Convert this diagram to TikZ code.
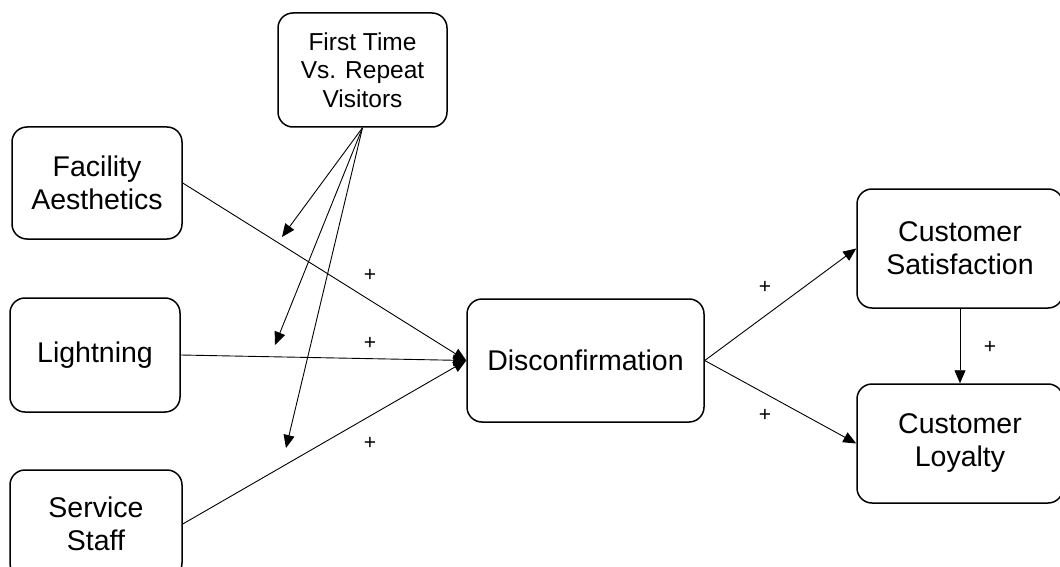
\documentclass[tikz,border=0pt]{standalone}
\usepackage{fontspec}
\setmainfont{Liberation Sans}
\usetikzlibrary{arrows.meta}
\begin{document}
\begin{tikzpicture}[x=1pt,y=-1pt,
  box/.style={draw=black,line width=1.5pt,rounded corners=15pt,align=center,
    inner sep=0pt,font=\fontsize{28.5}{33}\selectfont},
  smallbox/.style={box,font=\fontsize{24.5}{28.5}\selectfont},
  link/.style={draw=black,line width=0.9pt,-{Triangle[length=13pt,width=11pt]}},
  sign/.style={font=\fontsize{21}{23}\selectfont,inner sep=0pt}]
\useasboundingbox (0,0) rectangle (1060,567);

% constructs
\node[box,minimum width=170pt,minimum height=112pt] (fac) at (97,183) {Facility\\Aesthetics};
\node[box,minimum width=170pt,minimum height=114pt] (lig) at (95,355) {Lightning};
\node[box,minimum width=172pt,minimum height=108pt] (ser) at (96,524) {Service\\Staff};
\node[smallbox,minimum width=169pt,minimum height=114pt] (rep) at (362.5,70) {First Time\\Vs. Repeat\\Visitors};
\node[box,minimum width=237pt,minimum height=123pt] (dis) at (585.5,360.5) {Disconfirmation};
\node[box,minimum width=206pt,minimum height=119pt] (sat) at (960,248.5) {Customer\\Satisfaction};
\node[box,minimum width=206pt,minimum height=119pt] (loy) at (960,443.5) {Customer\\Loyalty};

% moderating paths end on the antecedent paths
\coordinate (m1) at (282,237);
\coordinate (m2) at (275,345);
\coordinate (m3) at (286,448);

% antecedents to disconfirmation
\draw[link] (fac.east) -- (dis.west);
\draw[link] (lig.east) -- (dis.west);
\draw[link] (ser.east) -- (dis.west);

% moderator
\draw[link] (rep.south) -- (m1);
\draw[link] (rep.south) -- (m2);
\draw[link] (rep.south) -- (m3);

% outcomes
\draw[link] (dis.east) -- (sat.west);
\draw[link] (dis.east) -- (loy.west);
\draw[link] (sat.south) -- (loy.north);

% signs
\node[sign] (p1) at (370,275) {+};
\node[sign] (p2) at (370,343) {+};
\node[sign] (p3) at (370,443) {+};
\node[sign] (p4) at (765,287) {+};
\node[sign] (p5) at (765,415) {+};
\node[sign] (p6) at (990,347) {+};
\end{tikzpicture}
\end{document}
